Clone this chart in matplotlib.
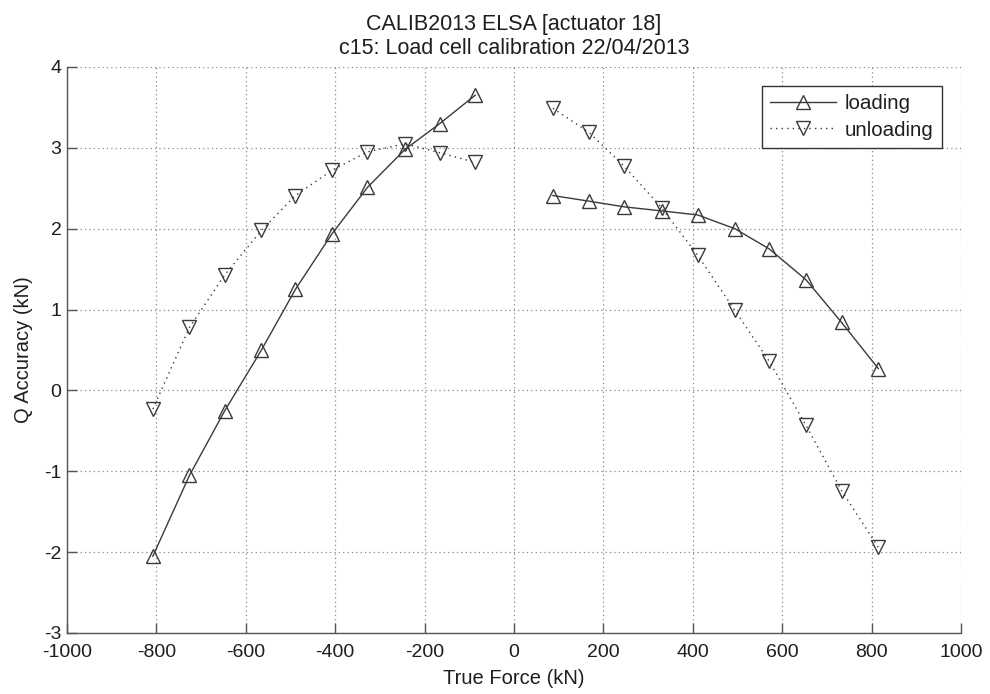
import matplotlib
matplotlib.use("Agg")
import matplotlib.pyplot as plt

plt.rcParams['font.family'] = ['Liberation Sans', 'DejaVu Sans']
plt.rcParams['axes.unicode_minus'] = False

# Load-cell accuracy over true force, compression (negative) and tension (positive) ranges
force_neg = [-808, -726, -647, -565, -489, -408, -328, -244, -166, -87]
force_pos = [87, 168, 247, 330, 411, 494, 571, 653, 733, 815]

loading_neg = [-2.05, -1.05, -0.25, 0.50, 1.25, 1.93, 2.51, 2.98, 3.30, 3.65]
unloading_neg = [-0.23, 0.78, 1.43, 1.98, 2.41, 2.72, 2.95, 3.05, 2.94, 2.82]
loading_pos = [2.41, 2.34, 2.27, 2.22, 2.17, 2.00, 1.75, 1.37, 0.84, 0.27]
unloading_pos = [3.49, 3.19, 2.77, 2.26, 1.67, 0.99, 0.36, -0.43, -1.24, -1.94]

xticks = list(range(-1000, 1001, 200))
yticks = list(range(-3, 5))

line_col = '#3a3a3a'
text_col = '#1e1e1e'

fig = plt.figure(figsize=(9.9, 6.94), dpi=100)
ax = fig.add_axes([0.0677, 0.0879, 0.903, 0.8156])

mk = dict(markersize=10, markerfacecolor='none', markeredgecolor=line_col,
          markeredgewidth=1.0, color=line_col)

ax.plot(force_neg, loading_neg, '-', marker='^', lw=1.0, label='loading', **mk)
ax.plot(force_neg, unloading_neg, linestyle=(0, (1, 3)), marker='v', lw=1.0,
        label='unloading', **mk)
ax.plot(force_pos, loading_pos, '-', marker='^', lw=1.0, **mk)
ax.plot(force_pos, unloading_pos, linestyle=(0, (1, 3)), marker='v', lw=1.0, **mk)

ax.set_xlim(-1000, 1000)
ax.set_ylim(-3, 4)
ax.set_xticks(xticks)
ax.set_yticks(yticks)
ax.grid(True, linestyle=(0, (1, 2.5)), color='#888888', lw=0.9)

for side in ('top', 'right'):
    ax.spines[side].set_visible(False)
for side in ('left', 'bottom'):
    ax.spines[side].set_color('#555555')
    ax.spines[side].set_linewidth(1.0)

ax.tick_params(direction='in', length=7, width=1.0, colors='#555555',
               labelcolor=text_col, labelsize=14, top=False, right=False)
ax.tick_params(axis='x', pad=8)
ax.tick_params(axis='y', pad=4)

ax.set_xlabel('True Force (kN)', fontsize=14.5, color=text_col, labelpad=6)
ax.set_ylabel('Q Accuracy (kN)', fontsize=14.5, color=text_col, labelpad=8)
ax.set_title('CALIB2013 ELSA [actuator 18]\nc15: Load cell calibration 22/04/2013',
             fontsize=15.5, color=text_col, linespacing=1.2, pad=9)

leg = ax.legend(loc='upper right', bbox_to_anchor=(0.9787, 0.966), fontsize=14.8,
                frameon=True, fancybox=False, framealpha=1, edgecolor='#333333',
                handlelength=3.2, borderpad=0.4, labelspacing=0.35,
                handletextpad=0.45, borderaxespad=0)
leg.get_frame().set_linewidth(1.0)
for t in leg.get_texts():
    t.set_color(text_col)

fig.savefig('out.png', dpi=100, facecolor='white')
